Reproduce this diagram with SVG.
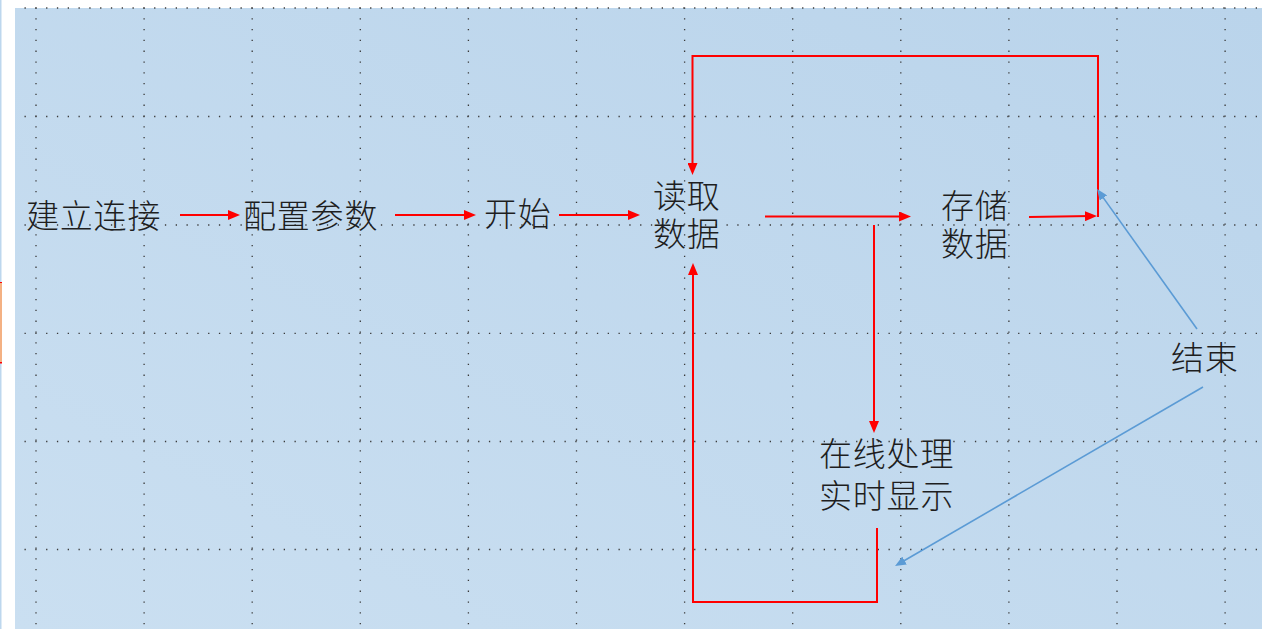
<svg xmlns="http://www.w3.org/2000/svg" width="1262" height="629" viewBox="0 0 1262 629">
  <defs>
    <linearGradient id="bg" x1="0" y1="1" x2="1" y2="0">
      <stop offset="0" stop-color="#cadff1"/>
      <stop offset="1" stop-color="#bad4eb"/>
    </linearGradient>
    <marker id="ar" markerUnits="userSpaceOnUse" markerWidth="12" markerHeight="10" refX="6" refY="5" orient="auto">
      <path d="M0,0 L12,5 L0,10 z" fill="#ff0000"/>
    </marker>
    <marker id="ab" markerUnits="userSpaceOnUse" markerWidth="11" markerHeight="9" refX="5" refY="4.5" orient="auto">
      <path d="M0,0 L11,4.5 L0,9 z" fill="#5b9bd5"/>
    </marker>
    <style>
      .g { stroke: #3a3a3a; stroke-width: 1.3; stroke-dasharray: 1.3 9.5; fill: none; }
      .r { stroke: #ff0000; stroke-width: 2; fill: none; }
      .b { stroke: #5b9bd5; stroke-width: 1.6; fill: none; }
      .t { font-family: "Noto Sans CJK SC", "Noto Sans CJK JP", sans-serif; font-size: 33px; font-weight: 300; fill: #1e1e1e; letter-spacing: 0.8px; }
    </style>
  </defs>

  <rect x="0" y="0" width="1262" height="629" fill="#ffffff"/>
  <rect x="0" y="0" width="1.5" height="629" fill="#bdd7ee"/>
  <rect x="0" y="282" width="2" height="81" fill="#f4b183"/>
  <rect x="0" y="282" width="2" height="1" fill="#ff0000"/>
  <rect x="0" y="362" width="2" height="1.5" fill="#ff0000"/>
  <rect x="15" y="8" width="1247" height="621" fill="url(#bg)"/>

  <g id="grid">
    <line class="g" x1="36" y1="7.4" x2="36" y2="629"/>
    <line class="g" x1="144.1" y1="7.4" x2="144.1" y2="629"/>
    <line class="g" x1="252.2" y1="7.4" x2="252.2" y2="629"/>
    <line class="g" x1="360.3" y1="7.4" x2="360.3" y2="629"/>
    <line class="g" x1="468.4" y1="7.4" x2="468.4" y2="629"/>
    <line class="g" x1="576.5" y1="7.4" x2="576.5" y2="629"/>
    <line class="g" x1="684.6" y1="7.4" x2="684.6" y2="629"/>
    <line class="g" x1="792.7" y1="7.4" x2="792.7" y2="629"/>
    <line class="g" x1="900.8" y1="7.4" x2="900.8" y2="629"/>
    <line class="g" x1="1008.9" y1="7.4" x2="1008.9" y2="629"/>
    <line class="g" x1="1117" y1="7.4" x2="1117" y2="629"/>
    <line class="g" x1="1225.1" y1="7.4" x2="1225.1" y2="629"/>
    <line class="g" x1="24.5" y1="8" x2="1262" y2="8"/>
    <line class="g" x1="24.5" y1="116.5" x2="1262" y2="116.5"/>
    <line class="g" x1="24.5" y1="225" x2="1262" y2="225"/>
    <line class="g" x1="24.5" y1="333.3" x2="1262" y2="333.3"/>
    <line class="g" x1="24.5" y1="441.5" x2="1262" y2="441.5"/>
    <line class="g" x1="24.5" y1="549.5" x2="1262" y2="549.5"/>
  </g>

  <g id="connectors">
    <path class="r" d="M180,215 H234" marker-end="url(#ar)"/>
    <path class="r" d="M395,215 H470" marker-end="url(#ar)"/>
    <path class="r" d="M559,215 H634" marker-end="url(#ar)"/>
    <path class="r" d="M765,216.5 H905" marker-end="url(#ar)"/>
    <path class="r" d="M874,225 V427" marker-end="url(#ar)"/>
    <path class="r" d="M1029,217 L1091,216.1" marker-end="url(#ar)"/>
    <path class="r" d="M1098,217 V56 H692.5 V169" marker-end="url(#ar)"/>
    <path class="r" d="M877,528 V602 H693 V269" marker-end="url(#ar)"/>
    <path class="b" d="M1197,329 L1100.5,193.9" marker-end="url(#ab)"/>
    <path class="b" d="M1203,387 L900.2,563" marker-end="url(#ab)"/>
  </g>

  <g id="node-connect"><text class="t" x="26" y="227.5">建立连接</text></g>
  <g id="node-config"><text class="t" x="243" y="227.5">配置参数</text></g>
  <g id="node-start"><text class="t" x="484" y="225.5">开始</text></g>
  <g id="node-read">
    <text class="t" x="653" y="207.5">读取<tspan x="653" y="245.5">数据</tspan></text>
  </g>
  <g id="node-store">
    <text class="t" x="941" y="217.5">存储<tspan x="941" y="255.5">数据</tspan></text>
  </g>
  <g id="node-end"><text class="t" x="1171" y="369.5">结束</text></g>
  <g id="node-process">
    <text class="t" x="819" y="466">在线处理<tspan x="819" y="507.5">实时显示</tspan></text>
  </g>
</svg>
